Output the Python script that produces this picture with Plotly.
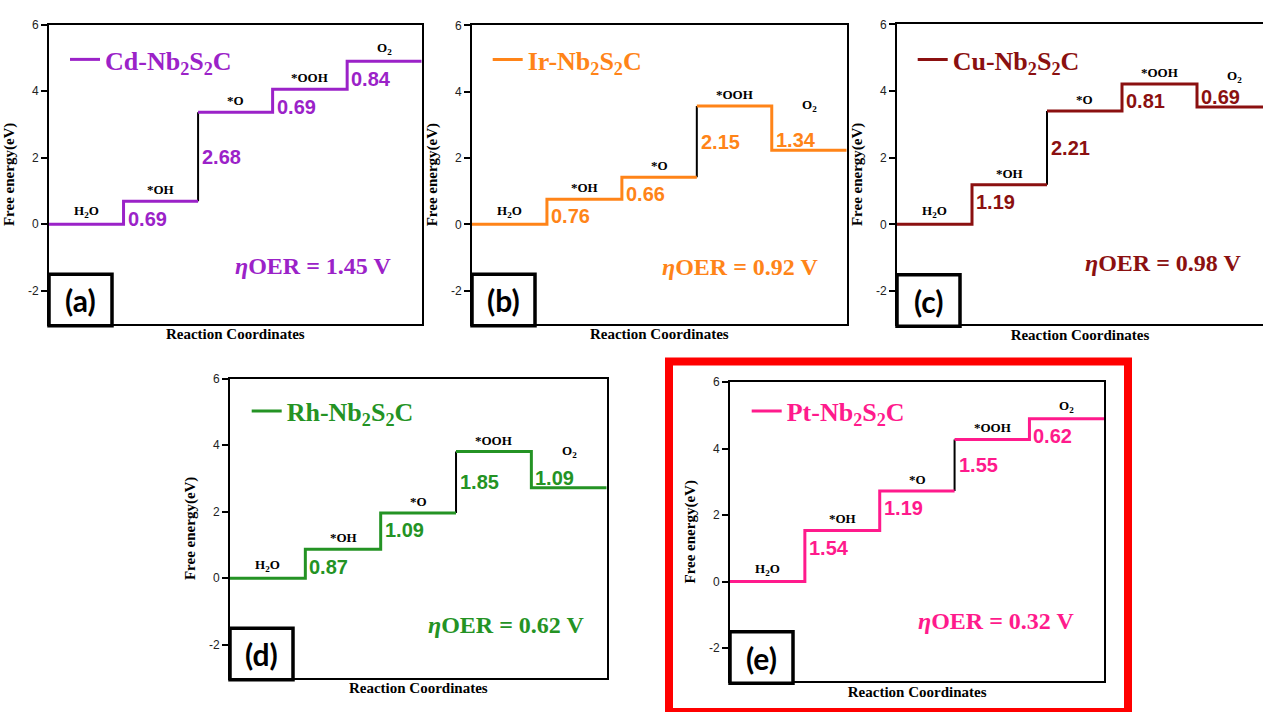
import plotly.graph_objects as go

W, H = 1263, 712

# ---- data -------------------------------------------------------------
species = ["H<sub>2</sub>O", "*OH", "*O", "*OOH", "O<sub>2</sub>"]
catalysts = [
    "Cd-Nb<sub>2</sub>S<sub>2</sub>C",
    "Ir-Nb<sub>2</sub>S<sub>2</sub>C",
    "Cu-Nb<sub>2</sub>S<sub>2</sub>C",
    "Rh-Nb<sub>2</sub>S<sub>2</sub>C",
    "Pt-Nb<sub>2</sub>S<sub>2</sub>C",
]
panel_tags = ["(a)", "(b)", "(c)", "(d)", "(e)"]

# free-energy change of each OER step (eV); negative = downhill step
cd_steps = [0.69, 2.68, 0.69, 0.84]
ir_steps = [0.76, 0.66, 2.15, -1.34]
cu_steps = [1.19, 2.21, 0.81, -0.69]
rh_steps = [0.87, 1.09, 1.85, -1.09]
pt_steps = [1.54, 1.19, 1.55, 0.62]
eta_oer = [1.45, 0.92, 0.98, 0.62, 0.32]

y_ticks = [-2, 0, 2, 4, 6]
y_tick_labels = ["-2", "0", "2", "4", "6"]

# ---- styling / layout -------------------------------------------------
colors = ["#9B22C8", "#FF8418", "#8B1010", "#249324", "#FF1A8C"]
# panel plot boxes in pixels: left, top, right, bottom
boxes = [
    (49, 18, 421.7, 320),
    (472, 18.5, 846.7, 320),
    (897, 17.5, 1272, 320.5),
    (230, 375.5, 606.7, 677.5),
    (730, 379, 1104.3, 681),
]
legend_px = [(70, 53), (492.7, 53), (917.7, 53), (251.7, 408), (751.7, 408)]
eta_pos = [(3.54, -1.26), (3.58, -1.28), (3.54, -1.17), (3.66, -1.42), (3.55, -1.2)]

SERIF = "Liberation Serif"
SANS = "Liberation Sans"

all_steps = [cd_steps, ir_steps, cu_steps, rh_steps, pt_steps]

fig = go.Figure()
annotations = []
shapes = []
layout = {}

for i, steps in enumerate(all_steps):
    n = i + 1
    xa = "x" if n == 1 else f"x{n}"
    ya = "y" if n == 1 else f"y{n}"
    xkey = "xaxis" if n == 1 else f"xaxis{n}"
    ykey = "yaxis" if n == 1 else f"yaxis{n}"
    lkey = "legend" if n == 1 else f"legend{n}"
    color = colors[i]
    left, top, right, bottom = boxes[i]

    levels = [0.0]
    for s in steps:
        levels.append(round(levels[-1] + s, 2))
    pds = max(range(4), key=lambda k: steps[k])  # potential-determining step

    # potential-determining step drawn as a thin black riser
    fig.add_trace(go.Scatter(
        x=[pds + 1, pds + 1], y=[levels[pds], levels[pds + 1]],
        mode="lines", line=dict(color="black", width=2),
        xaxis=xa, yaxis=ya, showlegend=False, hoverinfo="skip"))

    # coloured free-energy staircase
    xs, ys = [0, 1], [levels[0], levels[0]]
    for k in range(1, 5):
        if k - 1 == pds:
            xs.append(None)
            ys.append(None)
        xs += [k, k + 1]
        ys += [levels[k], levels[k]]
    fig.add_trace(go.Scatter(
        x=xs, y=ys, mode="lines", connectgaps=False,
        line=dict(color=color, width=3),
        name=catalysts[i], legend=lkey,
        xaxis=xa, yaxis=ya, showlegend=True, hoverinfo="skip"))

    # axes
    x_right = min(right, W)
    x_max = 5 * (x_right - left) / (right - left)
    layout[xkey] = dict(
        domain=[left / W, x_right / W], anchor=ya, range=[0, x_max],
        showgrid=False, zeroline=False, showticklabels=False, ticks="",
        showline=True, linecolor="black", linewidth=2, mirror=True,
        title=dict(text="Reaction Coordinates", standoff=4,
                   font=dict(family=SERIF, size=15, color="black", weight="bold")),
        fixedrange=True)
    layout[ykey] = dict(
        domain=[1 - bottom / H, 1 - top / H], anchor=xa, range=[-3, 6],
        tickvals=y_ticks, ticktext=y_tick_labels, ticks="outside", ticklen=6,
        tickwidth=1.5, tickcolor="black",
        tickfont=dict(family=SANS, size=12, color="#222"),
        showgrid=False, zeroline=False,
        showline=True, linecolor="black", linewidth=2, mirror=(n != 3),
        title=dict(text="Free energy(eV)", standoff=10,
                   font=dict(family=SERIF, size=15, color="black", weight="bold")),
        fixedrange=True)

    # legend for this panel
    lx, ly = legend_px[i]
    layout[lkey] = dict(
        x=(lx - 5) / W, y=1 - ly / H, xanchor="left", yanchor="middle",
        bgcolor="rgba(0,0,0,0)", borderwidth=0,
        font=dict(family=SERIF, size=26, color=color, weight="bold"))

    # step values (vertical centre of each label)
    value_y = []
    for k in range(1, 5):
        s = steps[k - 1]
        if s < 0:
            yc = levels[k] + 0.3
        elif k - 1 == pds:
            yc = (levels[k - 1] + levels[k]) / 2
        else:
            yc = levels[k] - 0.52
        value_y.append(yc)
        annotations.append(dict(
            x=k, y=yc, xref=xa, yref=ya, text=f"{abs(s):.2f}",
            showarrow=False, xanchor="left", yanchor="middle", xshift=2,
            font=dict(family=SANS, size=20, color=color, weight="bold")))

    # species labels
    label_font = dict(family=SERIF, size=13, color="black", weight="bold")
    for k in range(5):
        if k == 4 and levels[4] < levels[3]:
            yc = max(levels[3], value_y[3] + 0.62)
            annotations.append(dict(
                x=k + 0.5, y=yc, xref=xa, yref=ya, text=species[k],
                showarrow=False, yanchor="middle", xanchor="center",
                font=label_font))
        else:
            annotations.append(dict(
                x=k + 0.5, y=levels[k], xref=xa, yref=ya, text=species[k],
                showarrow=False, yanchor="bottom", xanchor="center", yshift=2,
                font=label_font))

    # overpotential
    ex, ey = eta_pos[i]
    annotations.append(dict(
        x=ex, y=ey, xref=xa, yref=ya,
        text=f"<i>η</i>OER = {eta_oer[i]:.2f} V",
        showarrow=False, xanchor="center", yanchor="middle",
        font=dict(family=SERIF, size=24, color=color, weight="bold")))

    # panel tag box
    bx0, bx1 = left, left + 63
    by0, by1 = bottom - 50, bottom + 2
    shapes.append(dict(
        type="rect", xref="paper", yref="paper",
        x0=bx0 / W, x1=bx1 / W, y0=1 - by1 / H, y1=1 - by0 / H,
        line=dict(color="black", width=3.5), fillcolor="white", layer="above"))
    annotations.append(dict(
        x=(bx0 + bx1) / 2 / W, y=1 - (by0 + by1) / 2 / H,
        xref="paper", yref="paper", text=panel_tags[i], showarrow=False,
        xanchor="center", yanchor="middle",
        font=dict(family="Lato", size=30, color="black", weight="bold")))

# red highlight frame around panel (e)
shapes.append(dict(
    type="rect", xref="paper", yref="paper",
    x0=669 / W, x1=1128 / W, y0=1 - 712 / H, y1=1 - 358 / H,
    line=dict(color="#FF0000", width=8), fillcolor="rgba(0,0,0,0)", layer="above"))

fig.update_layout(
    width=W, height=H,
    margin=dict(l=0, r=0, t=0, b=0),
    paper_bgcolor="white", plot_bgcolor="white",
    annotations=annotations, shapes=shapes,
    **layout)

fig.write_html("out.html", config={"displayModeBar": False})
